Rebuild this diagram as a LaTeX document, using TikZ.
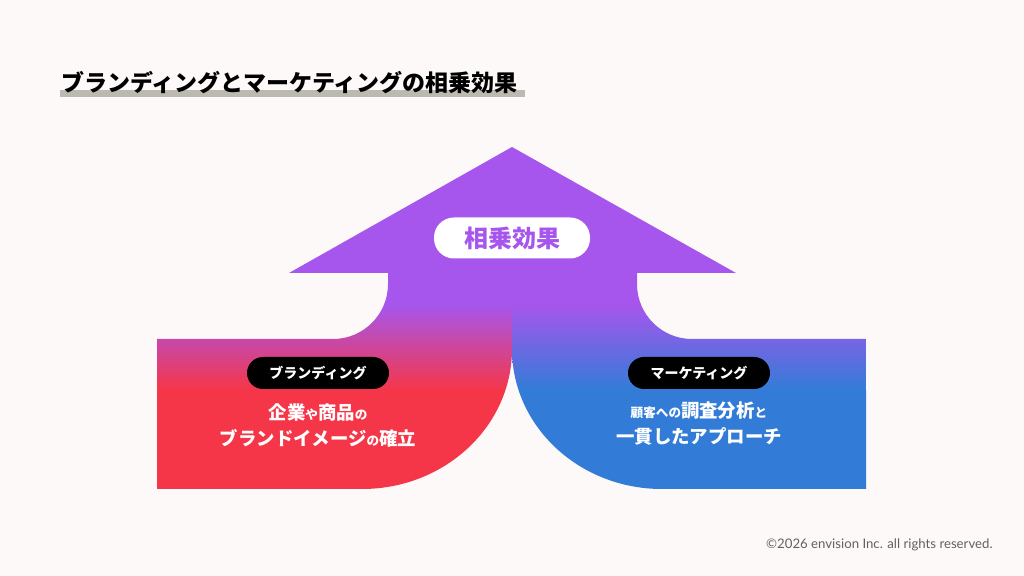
\documentclass[tikz,border=0pt]{standalone}
\usepackage{fontspec}
\setmainfont{Noto Sans CJK JP}
\newfontfamily\footfont{Lato}
\definecolor{bgpaper}{RGB}{252,249,248}
\definecolor{purp}{RGB}{166,86,236}
\definecolor{redc}{RGB}{245,54,72}
\definecolor{bluec}{RGB}{50,124,216}
\definecolor{markerc}{RGB}{188,185,177}
\newcommand{\bgt}[1]{{\fontsize{9.2}{13}\selectfont #1}}
\newcommand{\smt}[1]{{\fontsize{6.3}{13}\selectfont #1}}
\tikzset{
	pill/.style={fill=white, rounded corners=10pt, minimum width=78pt, minimum height=20.5pt, inner sep=0pt},
	tag/.style={fill=black, text=white, rounded corners=8pt, minimum width=71pt, minimum height=16pt, inner sep=0pt, font=\bfseries\fontsize{7}{9}\selectfont},
	body/.style={text=white, align=center, font=\bfseries\fontsize{9}{13}\selectfont, inner sep=0pt}
}
\begin{document}
\begin{tikzpicture}[x=0.5pt, y=-0.5pt]
		\useasboundingbox (0,0) rectangle (1024,576);
		\fill[bgpaper] (0,0) rectangle (1024,576);
		
		% title with marker line
		\fill[markerc] (60,90) rectangle (525,97);
		\node[anchor=west, inner sep=0pt, font=\bfseries\fontsize{11.5}{14}\selectfont] (title) at (61,83) {ブランディングとマーケティングの相乗効果};
		
		% arrow shape, coloured in two halves
		\begin{scope}
			\clip (157,339) -- (333,339) arc (90:0:55) -- (388,273) -- (289,273) -- (512,147) -- (736,273) -- (637,273) -- (637,284)
			arc (180:90:55) -- (866,339) -- (866,489) -- (662,489) arc (90:180:150 and 140) arc (0:90:150 and 140) -- (157,489) -- cycle;
			\fill[purp] (150,140) rectangle (870,305);
			\shade[top color=purp, bottom color=redc] (150,305) rectangle (512,390);
			\fill[redc] (150,390) rectangle (512,495);
			\shade[top color=purp, bottom color=bluec] (512,305) rectangle (870,390);
			\fill[bluec] (512,390) rectangle (870,495);
		\end{scope}
		
		\node[pill, text=purp, font=\bfseries\fontsize{12}{14}\selectfont] (gain) at (512,238) {相乗効果};
		
		\node[tag] (brandtag) at (318,373) {ブランディング};
		\node[body] (brandtext) at (318,425) {\bgt{企業}\smt{や}\bgt{商品}\smt{の}\\\bgt{ブランドイメージ}\smt{の}\bgt{確立}};
		
		\node[tag] (markettag) at (699,373) {マーケティング};
		\node[body] (markettext) at (699,424) {\smt{顧客への}\bgt{調査分析}\smt{と}\\\bgt{一貫したアプローチ}};
		
		\node[anchor=east, inner sep=0pt, text=black!62, font=\footfont\fontsize{6.6}{8}\selectfont] (copy) at (993,545) {©2026 envision Inc. all rights reserved.};
\end{tikzpicture}
\end{document}
